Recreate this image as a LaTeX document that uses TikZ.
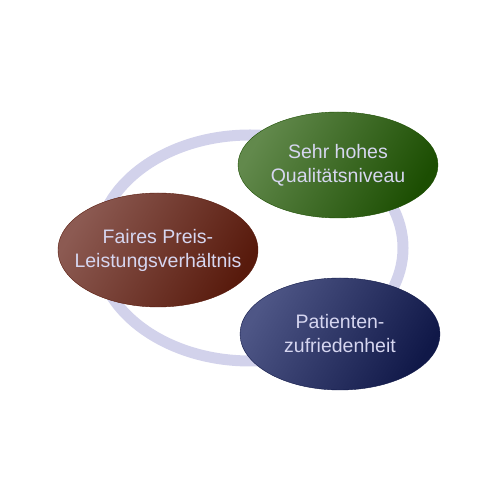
\documentclass[tikz,border=0pt]{standalone}
\usepackage{fontspec}
\setmainfont{Liberation Sans}
\usepackage{xcolor}
\usepackage{tikz}
\usetikzlibrary{shapes.geometric}

\definecolor{ringcol}{HTML}{D2D2EB}
\definecolor{txtcol}{HTML}{D6D6F0}
\definecolor{grnlight}{HTML}{62894C}
\definecolor{grndark}{HTML}{1C4E02}
\definecolor{brnlight}{HTML}{8C5A52}
\definecolor{brndark}{HTML}{581A0C}
\definecolor{blulight}{HTML}{4E5686}
\definecolor{bludark}{HTML}{101848}

\begin{document}
\begin{tikzpicture}[x=1pt,y=1pt,
  every node/.style={font=\fontsize{19.5pt}{24pt}\selectfont,text=txtcol,align=center},
  blob/.style={ellipse,inner xsep=-30pt,inner ysep=-10pt,minimum width=200pt,line width=0.4pt,shading angle=60}]
  \useasboundingbox (0,0) rectangle (500,500);
  \coordinate (M) at (250,252);
  \draw[ringcol,line width=11pt] (M) ellipse [x radius=153,y radius=113];
  \node[blob,minimum height=106pt,draw=grndark,top color=grnlight,bottom color=grndark,shading angle=60]
    (qual) at (338,335) {Sehr hohes\\Qualitätsniveau};
  \node[blob,minimum height=114pt,draw=brndark,top color=brnlight,bottom color=brndark,shading angle=60]
    (preis) at (158,250) {Faires Preis-\\Leistungsverhältnis};
  \node[blob,minimum height=112pt,draw=bludark,top color=blulight,bottom color=bludark,shading angle=60]
    (zufr) at (340,166) {Patienten-\\zufriedenheit};
\end{tikzpicture}
\end{document}
